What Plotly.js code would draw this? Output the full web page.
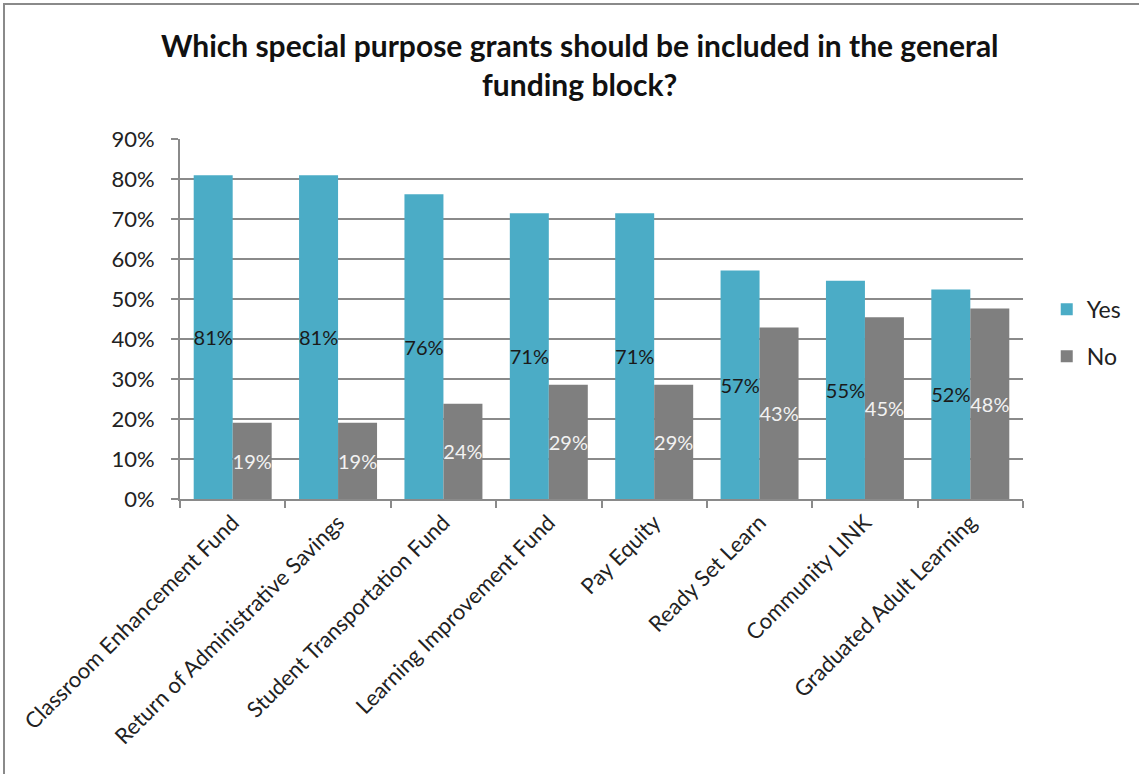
<!DOCTYPE html>
<html>
<head>
<meta charset="utf-8">
<script src="https://cdn.plot.ly/plotly-3.0.1.min.js"></script>
<style>
  html, body { margin: 0; padding: 0; background: #fff; }
  #wrap { position: relative; width: 1139px; height: 774px; overflow: hidden; }
  #chart { position: absolute; left: 0; top: 0; width: 1139px; height: 774px; }
  #frame { position: absolute; left: 3px; top: 3px; width: 1160px; height: 800px;
           border-left: 2px solid #8a8a8a; border-top: 2px solid #8a8a8a; pointer-events: none; }
</style>
</head>
<body>
<div id="wrap">
  <div id="chart"></div>
  <div id="frame"></div>
</div>
<script>
const categories = [
  "Classroom Enhancement Fund",
  "Return of Administrative Savings",
  "Student Transportation Fund",
  "Learning Improvement Fund",
  "Pay Equity",
  "Ready Set Learn",
  "Community LINK",
  "Graduated Adult Learning"
];
const yesValues = [80.95, 80.95, 76.19, 71.43, 71.43, 57.14, 54.55, 52.38];
const noValues  = [19.05, 19.05, 23.81, 28.57, 28.57, 42.86, 45.45, 47.62];
const seriesNames = ["Yes", "No"];
const yTickVals = [0, 10, 20, 30, 40, 50, 60, 70, 80, 90];
const yTickText = ["0%", "10%", "20%", "30%", "40%", "50%", "60%", "70%", "80%", "90%"];

const FONT = "Lato, 'Open Sans', sans-serif";

const traces = [
  {
    type: "bar", name: seriesNames[0], x: categories, y: yesValues,
    marker: { color: "#4BACC6" },
    texttemplate: "%{y:.0f}%", textposition: "inside", insidetextanchor: "middle",
    textangle: 0, constraintext: "none",
    textfont: { family: FONT, size: 20, color: "#1a1a1a" },
    legendgroup: "a", hoverinfo: "skip"
  },
  {
    type: "bar", name: seriesNames[1], x: categories, y: noValues,
    marker: { color: "#7F7F7F" },
    texttemplate: "%{y:.0f}%", textposition: "inside", insidetextanchor: "middle",
    textangle: 0, constraintext: "none",
    textfont: { family: FONT, size: 20, color: "#f2f2f2" },
    legendgroup: "b", hoverinfo: "skip"
  }
];

const layout = {
  width: 1139, height: 774,
  margin: { l: 180, r: 116, t: 139, b: 275 },
  paper_bgcolor: "#ffffff", plot_bgcolor: "#ffffff",
  font: { family: FONT, color: "#222" },
  title: {
    text: "<b>Which special purpose grants should be included in the general<br>funding block?</b>",
    font: { family: FONT, size: 30, color: "#111" },
    x: 0.509, xref: "container", xanchor: "center",
    y: 0.926, yref: "container", yanchor: "middle"
  },
  barmode: "group",
  bargap: 0.26, bargroupgap: 0,
  xaxis: {
    type: "category",
    tickangle: -45,
    tickfont: { family: FONT, size: 22, color: "#222" },
    showline: true, linecolor: "#8a8a8a", linewidth: 2,
    ticks: "outside", tickson: "boundaries", ticklen: 7, tickwidth: 2, tickcolor: "#8a8a8a",
    showgrid: false, zeroline: false, fixedrange: true
  },
  yaxis: {
    range: [0, 90],
    tickvals: yTickVals, ticktext: yTickText,
    tickfont: { family: FONT, size: 22, color: "#222" },
    showline: true, linecolor: "#8a8a8a", linewidth: 2,
    ticks: "outside", ticklen: 7, tickwidth: 2, tickcolor: "#8a8a8a",
    ticklabelstandoff: 12,
    showgrid: true, gridcolor: "#8a8a8a", gridwidth: 2,
    zeroline: false, fixedrange: true
  },
  legend: {
    xref: "container", yref: "container",
    x: 0.919, xanchor: "left", y: 0.57, yanchor: "middle",
    font: { family: FONT, size: 23, color: "#222" },
    traceorder: "grouped", tracegroupgap: 14,
    itemwidth: 30, bgcolor: "rgba(0,0,0,0)"
  },
  showlegend: true
};

Plotly.newPlot("chart", traces, layout, { staticPlot: true, displayModeBar: false });
</script>
</body>
</html>
